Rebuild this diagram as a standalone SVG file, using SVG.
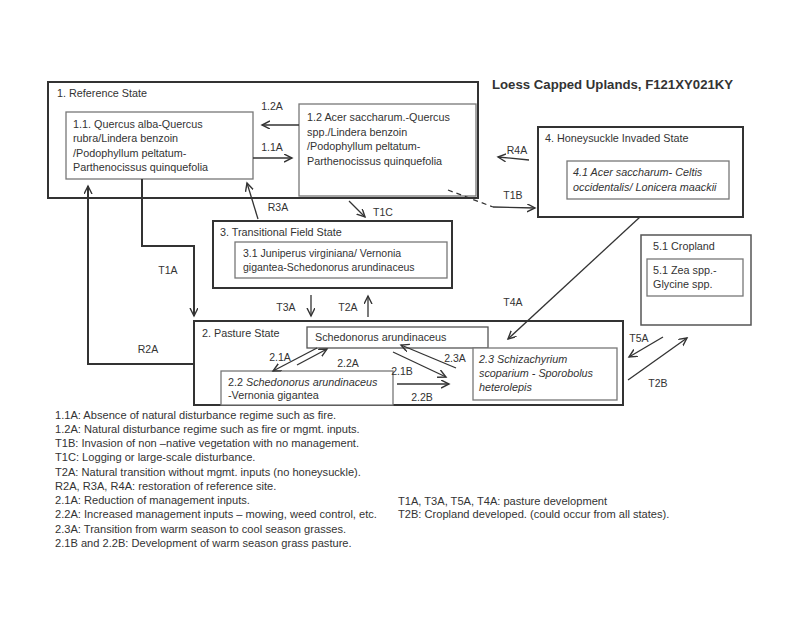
<svg xmlns="http://www.w3.org/2000/svg" width="800" height="617" viewBox="0 0 800 617">
<style>
text{font-family:"Liberation Sans",Arial,sans-serif;fill:#333;font-size:10.8px}
.lbl{text-anchor:middle;font-size:10.5px}
.leg{font-size:11.1px}
.it{font-style:italic}
.state{fill:none;stroke:#333;stroke-width:2}
.comm{fill:#fff;stroke:#777;stroke-width:1.3}
.con{fill:none;stroke:#333;stroke-width:1.3}
.thick{stroke-width:2}
.dash{stroke-dasharray:5,4}
</style>
<defs>
<marker id="ah" markerWidth="10" markerHeight="10" refX="8" refY="4" orient="auto" markerUnits="userSpaceOnUse">
<path d="M0,0 L8,4 L0,8" fill="none" stroke="#333" stroke-width="1.4"/>
</marker>
</defs>
<rect width="800" height="617" fill="#fff"/>
<text x="492" y="89" font-weight="bold" style="font-size:13.2px">Loess Capped Uplands, F121XY021KY</text>

<g id="state1">
<rect class="state" x="48" y="82" width="430" height="116"/>
<text x="57" y="97">1. Reference State</text>
</g>
<g id="comm11">
<rect class="comm" x="66" y="112" width="187" height="67"/>
<text x="73" y="128">1.1. Quercus alba-Quercus</text>
<text x="73" y="142">rubra/Lindera benzoin</text>
<text x="73" y="157">/Podophyllum peltatum-</text>
<text x="73" y="171">Parthenocissus quinquefolia</text>
</g>
<g id="comm12">
<rect class="comm" x="299" y="104" width="177" height="92"/>
<text x="307" y="121">1.2 Acer saccharum.-Quercus</text>
<text x="307" y="136">spp./Lindera benzoin</text>
<text x="307" y="150">/Podophyllum peltatum-</text>
<text x="307" y="165">Parthenocissus quinquefolia</text>
</g>
<g id="state4">
<rect class="state" x="538" y="127" width="205" height="90"/>
<text x="545" y="142">4. Honeysuckle Invaded State</text>
<rect class="comm" x="567" y="161" width="162" height="38"/>
<text x="573" y="176" class="it">4.1 Acer saccharum- Celtis</text>
<text x="573" y="191" class="it">occidentalis/ Lonicera maackii</text>
</g>
<g id="state3">
<rect class="state" x="213" y="221" width="239" height="67"/>
<text x="220" y="236">3. Transitional Field State</text>
<rect class="comm" x="235" y="242" width="212" height="36"/>
<text x="243" y="257" style="font-size:10.5px">3.1 Juniperus virginiana/ Vernonia</text>
<text x="243" y="271" style="font-size:10.5px">gigantea-Schedonorus arundinaceus</text>
</g>
<g id="state5">
<rect class="state" x="641" y="235" width="110" height="90" style="stroke:#555;stroke-width:1.5"/>
<text x="653" y="250">5.1 Cropland</text>
<rect class="comm" x="647" y="259" width="96" height="37"/>
<text x="653" y="274">5.1 Zea spp.-</text>
<text x="653" y="288">Glycine spp.</text>
</g>
<g id="state2">
<rect class="state" x="194" y="321" width="429" height="84"/>
<text x="202" y="337">2. Pasture State</text>
</g>
<g id="comm21">
<rect class="comm" x="307" y="327" width="181" height="21" style="stroke:#555"/>
<text x="315" y="341">Schedonorus arundinaceus</text>
</g>
<g id="comm22">
<rect class="comm" x="221" y="371" width="172" height="34"/>
<text x="228" y="386">2.2 <tspan class="it">Schedonorus arundinaceus</tspan></text>
<text x="228" y="399">-Vernonia gigantea</text>
</g>
<g id="comm23">
<rect class="comm" x="473" y="348" width="144" height="52"/>
<text x="479" y="363" class="it">2.3 Schizachyrium</text>
<text x="479" y="377" class="it">scoparium - Sporobolus</text>
<text x="479" y="391" class="it">heterolepis</text>
</g>

<g id="connectors">
<line class="con" x1="299" y1="125" x2="262" y2="125" marker-end="url(#ah)"/>
<line class="con" x1="253" y1="158" x2="292" y2="158" marker-end="url(#ah)"/>
<line class="con" x1="529" y1="160" x2="498" y2="157" marker-end="url(#ah)"/>
<polyline class="con dash" points="448,190 493,207"/>
<line class="con" x1="493" y1="207" x2="535" y2="208" marker-end="url(#ah)"/>
<line class="con" x1="349" y1="201" x2="365" y2="217" marker-end="url(#ah)"/>
<line class="con" x1="258" y1="219" x2="247" y2="183" marker-end="url(#ah)"/>
<line class="con" x1="311" y1="295" x2="311" y2="316" marker-end="url(#ah)"/>
<line class="con" x1="368" y1="317" x2="368" y2="296" marker-end="url(#ah)"/>
<polyline class="con thick" points="142,179 142,246 194,246 194,316" marker-end="url(#ah)"/>
<polyline class="con thick" points="194,364 88,364 88,186" marker-end="url(#ah)"/>
<line class="con" x1="640" y1="217" x2="508" y2="339" marker-end="url(#ah)"/>
<line class="con" x1="663" y1="337" x2="629" y2="357" marker-end="url(#ah)"/>
<line class="con" x1="628" y1="380" x2="687" y2="338" marker-end="url(#ah)"/>
<line class="con" x1="317" y1="348" x2="273" y2="371" marker-end="url(#ah)"/>
<line class="con" x1="297" y1="365" x2="327" y2="349" marker-end="url(#ah)"/>
<line class="con" x1="393" y1="352" x2="446" y2="377" marker-end="url(#ah)"/>
<line class="con" x1="456" y1="368" x2="401" y2="345" marker-end="url(#ah)"/>
<line class="con" x1="397" y1="384" x2="449" y2="384" marker-end="url(#ah)"/>
</g>
<g id="labels">
<text class="lbl" x="272" y="110">1.2A</text>
<text class="lbl" x="272" y="151">1.1A</text>
<text class="lbl" x="517" y="154">R4A</text>
<text class="lbl" x="513" y="199">T1B</text>
<text class="lbl" x="383" y="216">T1C</text>
<text class="lbl" x="278" y="211">R3A</text>
<text class="lbl" x="286" y="311">T3A</text>
<text class="lbl" x="348" y="311">T2A</text>
<text class="lbl" x="168" y="274">T1A</text>
<text class="lbl" x="148" y="353">R2A</text>
<text class="lbl" x="513" y="306">T4A</text>
<text class="lbl" x="639" y="342">T5A</text>
<text class="lbl" x="658" y="387">T2B</text>
<text class="lbl" x="280" y="361">2.1A</text>
<text class="lbl" x="348" y="367">2.2A</text>
<text class="lbl" x="402" y="375">2.1B</text>
<text class="lbl" x="455" y="362">2.3A</text>
<text class="lbl" x="422" y="401">2.2B</text>
</g>
<g id="legend">
<text class="leg" x="55" y="419">1.1A: Absence of natural disturbance regime such as fire.</text>
<text class="leg" x="55" y="433">1.2A: Natural disturbance regime such as fire or mgmt. inputs.</text>
<text class="leg" x="55" y="447">T1B: Invasion of non –native vegetation with no management.</text>
<text class="leg" x="55" y="461">T1C: Logging or large-scale disturbance.</text>
<text class="leg" x="55" y="476">T2A: Natural transition without mgmt. inputs (no honeysuckle).</text>
<text class="leg" x="55" y="490">R2A, R3A, R4A: restoration of reference site.</text>
<text class="leg" x="55" y="504">2.1A: Reduction of management inputs.</text>
<text class="leg" x="55" y="518">2.2A:  Increased management inputs – mowing, weed control, etc.</text>
<text class="leg" x="55" y="533">2.3A: Transition from warm season to cool season grasses.</text>
<text class="leg" x="55" y="547">2.1B and 2.2B:  Development of warm season grass pasture.</text>
<text class="leg" x="398" y="505">T1A, T3A, T5A, T4A: pasture development</text>
<text class="leg" x="398" y="518">T2B: Cropland developed. (could occur from all states).</text>
</g>
</svg>
